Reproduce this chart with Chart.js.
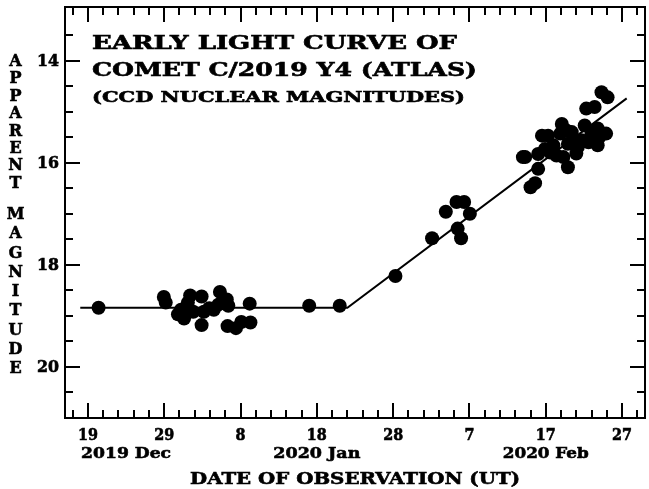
<!DOCTYPE html>
<html><head><meta charset="utf-8">
<script src="https://cdn.jsdelivr.net/npm/chart.js@4.4.0/dist/chart.umd.min.js"></script>
<style>
html,body{margin:0;padding:0;background:#fff;overflow:hidden;width:649px;height:489px}
#wrap{position:absolute;left:0;top:0;width:652px;height:489px}
</style>
</head><body><div id="wrap"><canvas id="c" width="652" height="489"></canvas></div>
<script>
// Day numbers counted from 2019 Dec 0 (Dec 31 = 31, Jan 8 = 39, Feb 7 = 69)
const obsDay = [20.4, 28.95, 29.2, 30.8, 31.2, 31.6, 32.1, 32.4, 32.8, 33.9, 33.9, 34.2, 34.9, 35.5,
  36.1, 36.3, 36.7, 37.2, 37.4, 37.3, 38.4, 39.1, 40.2, 40.3, 48.0, 52.0,
  59.3, 64.1, 65.9, 67.3, 68.3, 67.45, 67.9, 69.05,
  76.0, 76.3, 77.0, 77.6, 78.0, 78.0, 78.5, 78.9, 79.3, 79.6, 80.0, 80.4, 80.9, 81.1, 81.3, 81.7,
  81.9, 81.9, 82.4, 82.6, 83.0, 83.2, 83.7, 84.1, 84.3, 84.6, 85.0, 85.4, 85.8, 85.8, 86.0, 86.3, 86.9, 87.1];
const obsMag = [18.84, 18.63, 18.74, 18.97, 18.88, 19.05, 18.74, 18.6, 18.92, 18.62, 19.18, 18.92, 18.85, 18.88,
  18.78, 18.53, 18.7, 18.68, 18.8, 19.2, 19.24, 19.12, 18.76, 19.13, 18.8, 18.8,
  18.22, 17.48, 16.96, 16.77, 16.77, 17.29, 17.48, 17.0,
  15.89, 15.89, 16.48, 16.4, 16.12, 15.83, 15.47, 15.73, 15.47, 15.8, 15.66, 15.86, 15.43, 15.24, 15.89, 15.37,
  16.09, 15.63, 15.4, 15.56, 15.82, 15.69, 15.56, 15.27, 14.94, 15.6, 15.43, 14.91, 15.33, 15.66, 15.5, 14.62, 15.43, 14.72];
const fitDay = [18, 53, 89.6];
const fitMag = [18.84, 18.84, 14.74];
const xTickDays = [19, 29, 39, 49, 59, 69, 79, 89];
const xTickLabels = ['19', '29', '8', '18', '28', '7', '17', '27'];
const monthDays = [24, 49, 79];
const monthLabels = ['2019 Dec', '2020 Jan', '2020 Feb'];
const yTickValues = [14, 16, 18, 20];
const yTickLabels = ['14', '16', '18', '20'];
const titleLines = ['EARLY LIGHT CURVE OF', 'COMET C/2019 Y4 (ATLAS)', '(CCD NUCLEAR MAGNITUDES)'];
const xTitle = 'DATE OF OBSERVATION (UT)';
const yTitle = 'APPARENT MAGNITUDE';

const FONT = '"DejaVu Serif", "Liberation Serif", serif';

function drawText(ctx, text, x, y, size, targetW, align) {
  ctx.save();
  ctx.font = 'bold ' + size + 'px ' + FONT;
  const w = ctx.measureText(text).width;
  const sx = targetW ? targetW / w : 1;
  ctx.translate(x, y);
  ctx.scale(sx, 1);
  ctx.textAlign = align || 'left';
  ctx.textBaseline = 'alphabetic';
  ctx.fillStyle = '#000';
  ctx.strokeStyle = '#000';
  ctx.lineWidth = 0.6;
  ctx.fillText(text, 0, 0);
  ctx.strokeText(text, 0, 0);
  ctx.restore();
}

const framePlugin = {
  id: 'frame',
  afterDraw(chart) {
    const ctx = chart.ctx, a = chart.chartArea;
    const xs = chart.scales.x, ys = chart.scales.y;
    ctx.save();
    ctx.strokeStyle = '#000';
    ctx.lineWidth = 2;
    ctx.strokeRect(a.left, a.top, a.right - a.left, a.bottom - a.top);
    ctx.beginPath();
    for (let d = 17; d <= 91; d += 2) {
      const px = Math.round(xs.getPixelForValue(d));
      const len = xTickDays.includes(d) ? 15 : 8;
      ctx.moveTo(px, a.bottom); ctx.lineTo(px, a.bottom - len);
      ctx.moveTo(px, a.top); ctx.lineTo(px, a.top + len);
    }
    for (let m = 13.5; m <= 20.5; m += 0.5) {
      const py = Math.round(ys.getPixelForValue(m));
      const len = yTickValues.includes(m) ? 15 : 8;
      ctx.moveTo(a.left, py); ctx.lineTo(a.left + len, py);
      ctx.moveTo(a.right, py); ctx.lineTo(a.right - len, py);
    }
    ctx.stroke();
    ctx.restore();

    xTickDays.forEach((d, i) => {
      const w = xTickLabels[i].length > 1 ? 20 : 10;
      drawText(ctx, xTickLabels[i], xs.getPixelForValue(d), 440, 16, w, 'center');
    });
    const mw = [90, 87, 86];
    monthDays.forEach((d, i) => {
      drawText(ctx, monthLabels[i], xs.getPixelForValue(d), 458, 15.5, mw[i], 'center');
    });
    yTickValues.forEach((v, i) => {
      drawText(ctx, yTickLabels[i], 59, ys.getPixelForValue(v) + 5.5, 16, 22, 'right');
    });
    drawText(ctx, xTitle, (a.left + a.right) / 2, 484, 16.5, 330, 'center');

    const letters = yTitle.split('');
    let y = 60;
    let part = 0;
    letters.forEach((ch) => {
      if (ch === ' ') { part = 1; y = 213; return; }
      drawText(ctx, ch, 15.5, y + 6, 16, null, 'center');
      y += part === 0 ? 17.4 : 19.25;
    });

    drawText(ctx, titleLines[0], 92, 48.5, 18.5, 365, 'left');
    drawText(ctx, titleLines[1], 92, 76, 18.5, 385, 'left');
    drawText(ctx, titleLines[2], 92, 101.5, 15, 373, 'left');
  }
};

const obsPoints = obsDay.map((d, i) => ({ x: d, y: obsMag[i] }));
const fitPoints = fitDay.map((d, i) => ({ x: d, y: fitMag[i] }));

new Chart(document.getElementById('c'), {
  type: 'scatter',
  data: {
    datasets: [
      { label: 'fit', data: fitPoints, showLine: true, borderColor: '#000', borderWidth: 2,
        pointRadius: 0, fill: false, tension: 0 },
      { label: 'obs', data: obsPoints, pointRadius: 7, pointBackgroundColor: '#000',
        pointBorderWidth: 0, borderColor: '#000' }
    ]
  },
  options: {
    responsive: false,
    devicePixelRatio: 1,
    animation: false,
    layout: { padding: { left: 65, right: 1.2, top: 6, bottom: 71 } },
    plugins: { legend: { display: false }, tooltip: { enabled: false }, title: { display: false } },
    scales: {
      x: { type: 'linear', min: 16, max: 92, display: false },
      y: { type: 'linear', reverse: true, min: 12.95, max: 21, display: false }
    }
  },
  plugins: [framePlugin]
});
</script>
</body></html>
